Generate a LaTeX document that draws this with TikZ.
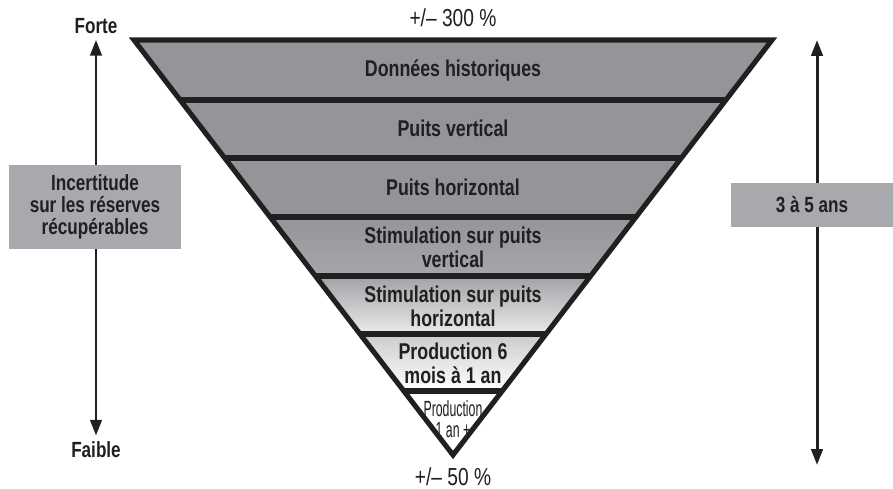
\documentclass[tikz,border=0pt]{standalone}
\usepackage{fontspec}
\setmainfont{Liberation Sans}[FakeStretch=0.78]
\newfontfamily\narrowfont{Liberation Sans}[FakeStretch=0.56]
\usetikzlibrary{arrows.meta}

\definecolor{bandgray}{HTML}{939598}
\definecolor{boxgray}{HTML}{A7A9AC}
\definecolor{inkgray}{HTML}{231F20}

\tikzset{
	bandtext/.style={font=\fontsize{13}{13.5}\selectfont\bfseries, text=inkgray, align=center},
	sidebox/.style={fill=boxgray, font=\fontsize{12.5}{12.5}\selectfont\bfseries, text=inkgray, align=center},
	endlabel/.style={font=\fontsize{12.5}{13}\selectfont\bfseries, text=inkgray},
	pctlabel/.style={font=\fontsize{14}{15}\selectfont, text=inkgray},
	bigarrow/.style={line width=1.7pt, draw=inkgray, {Triangle[length=9pt,width=6.5pt]}-{Triangle[length=9pt,width=6.5pt]}},
	sep/.style={line width=2.9pt, draw=inkgray}
}

\begin{document}
\begin{tikzpicture}[x=0.02cm, y=-0.02cm]
		\useasboundingbox (0,0) rectangle (893,489);

		% bands of the funnel
		\begin{scope}
			\clip (134,40) -- (772,40) -- (453,455) -- cycle;
			\fill [bandgray] (100,40) rectangle (800,217);
			\shade [top color=bandgray, bottom color={rgb,255:red,165;green,167;blue,170}] (100,217) rectangle (800,276);
			\shade [top color={rgb,255:red,160;green,162;blue,165}, bottom color={rgb,255:red,234;green,234;blue,235}] (100,276) rectangle (800,334);
			\shade [top color={rgb,255:red,202;green,203;blue,205}, bottom color=white] (100,334) rectangle (800,391);
			\fill [white] (100,391) rectangle (800,460);
			\foreach \y in {100,158,217,276,334,391}
				\draw [sep] (100,\y) -- (800,\y);
		\end{scope}
		\draw [sep, line join=miter] (134,40) -- (772,40) -- (453,455) -- cycle;

		\node [bandtext] (donnees) at (453,70) {Données historiques};
		\node [bandtext] (vertical) at (453,128) {Puits vertical};
		\node [bandtext] (horizontal) at (453,187) {Puits horizontal};
		\node [bandtext] (stimv) at (453,247) {Stimulation sur puits\\vertical};
		\node [bandtext] (stimh) at (453,306) {Stimulation sur puits\\horizontal};
		\node [bandtext] (prod6) at (453,363) {Production 6\\mois à 1 an};
		\node [font=\fontsize{12.5}{12}\selectfont\narrowfont, text=inkgray, align=center] (prod1) at (453,419) {Production\\1 an +};

		\node [pctlabel] (haut) at (453,18) {+/– 300 \%};
		\node [pctlabel] (bas) at (453,477) {+/– 50 \%};

		% uncertainty axis
		\node [endlabel] (forte) at (96,26) {Forte};
		\node [endlabel] (faible) at (96,450) {Faible};
		\draw [bigarrow] (forte) -- (faible);
		\node [sidebox, minimum width=3.44cm, minimum height=1.7cm] (incert) at (95,207) {Incertitude\\sur les réserves\\récupérables};

		% time axis
		\coordinate (thaut) at (817,40);
		\coordinate (tbas) at (817,465);
		\draw [bigarrow] (thaut) -- (tbas);
		\node [sidebox, minimum width=3.24cm, minimum height=0.88cm] (duree) at (812,205) {3 à 5 ans};

	\end{tikzpicture}
\end{document}
